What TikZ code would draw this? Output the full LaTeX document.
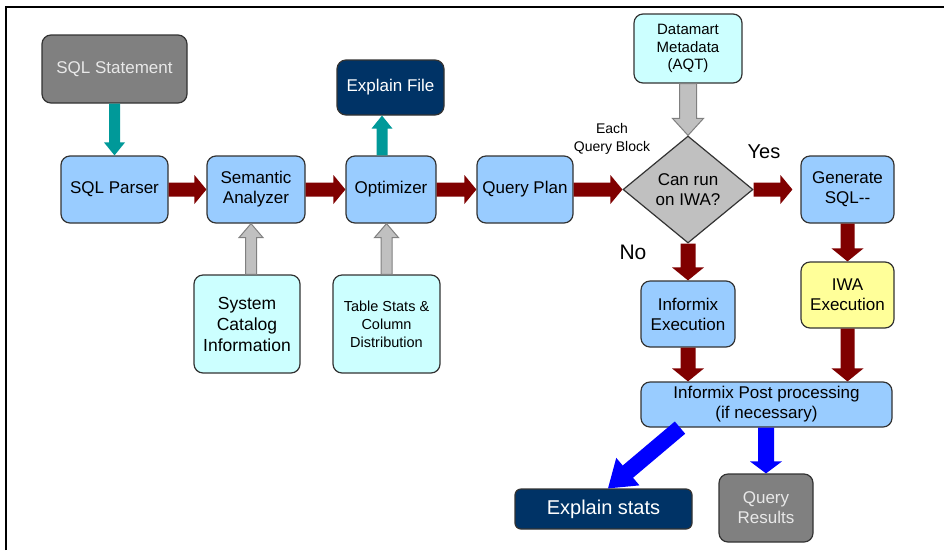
\documentclass[tikz,border=0pt]{standalone}
\usepackage{fontspec}
\setmainfont{Liberation Sans}
\usetikzlibrary{calc,shapes.geometric}

\definecolor{boxblue}{HTML}{99CCFF}
\definecolor{boxcyan}{HTML}{CCFFFF}
\definecolor{boxyellow}{HTML}{FFFF99}
\definecolor{boxgray}{HTML}{808080}
\definecolor{boxnavy}{HTML}{003366}
\definecolor{diagray}{HTML}{C0C0C0}
\definecolor{edge}{HTML}{333333}
\definecolor{flowred}{HTML}{800000}
\definecolor{flowteal}{HTML}{009999}
\definecolor{flowblue}{HTML}{0000FF}
\definecolor{lighttext}{HTML}{E8E8E8}

% Block arrow: style, start, end, half shaft width, half head width, head length
\newcommand{\blockarrow}[6]{%
  \coordinate (bhead) at ($#3!#6!#2$);
  \filldraw[#1] ($#2!#4!90:#3$) -- ($(bhead)!#4!90:#3$) -- ($(bhead)!#5!90:#3$)
    -- #3 -- ($(bhead)!#5!-90:#3$) -- ($(bhead)!#4!-90:#3$) -- ($#2!#4!-90:#3$) -- cycle;
}

\tikzset{
  box/.style={rectangle, rounded corners=9pt, draw=edge, line width=1.2pt,
    align=center, inner sep=0pt, font=\fontsize{17}{20}\selectfont},
  procbox/.style={box, fill=boxblue},
  inputbox/.style={box, fill=boxcyan},
  darkbox/.style={box, fill=boxnavy, text=white},
  greybox/.style={box, fill=boxgray, text=lighttext},
  redarrow/.style={fill=flowred, draw=none},
  tealarrow/.style={fill=flowteal, draw=none},
  bluearrow/.style={fill=flowblue, draw=none},
  greyarrow/.style={fill=diagray, draw=boxgray, line width=1pt, line join=miter},
  tag/.style={inner sep=0pt, align=center}
}

\begin{document}
\begin{tikzpicture}[x=1pt, y=-1pt]
\useasboundingbox (0,0) rectangle (944,550);
\fill[white] (0,0) rectangle (944,550);
% frame lines
\draw[line width=1.8pt] (6,550) -- (6,7) -- (944,7);

% main pipeline
\node[greybox, minimum width=145pt, minimum height=68pt] (sqlst) at (114.5,69) {SQL Statement};
\node[procbox, minimum width=107pt, minimum height=67pt] (parser) at (114.5,189.5) {SQL Parser};
\node[procbox, minimum width=98pt, minimum height=67pt] (sem) at (256,189.5) {Semantic\\Analyzer};
\node[procbox, minimum width=90pt, minimum height=67pt] (opt) at (391,189.5) {Optimizer};
\node[darkbox, minimum width=107pt, minimum height=55pt] (xfile) at (390.5,87.5) {Explain File};
\node[procbox, minimum width=96pt, minimum height=67pt] (qplan) at (525,189.5) {Query Plan};
\node[diamond, draw=edge, line width=1.2pt, fill=diagray, minimum width=130pt, minimum height=107pt,
  inner sep=0pt, align=center, font=\fontsize{17}{20}\selectfont] (dia) at (688,189.5) {Can run\\on IWA?};
\node[procbox, minimum width=93pt, minimum height=67pt] (gen) at (847.5,189.5) {Generate\\SQL-{}-};

% inputs
\node[inputbox, minimum width=108pt, minimum height=69pt, font=\fontsize{15}{17.5}\selectfont] (dm) at (688,48.5) {Datamart\\Metadata\\(AQT)};
\node[inputbox, minimum width=106pt, minimum height=98pt, font=\fontsize{17.5}{21}\selectfont] (syscat) at (247,324) {System\\Catalog\\Information};
\node[inputbox, minimum width=107pt, minimum height=98pt, font=\fontsize{14.5}{18}\selectfont] (tstats) at (386.5,324) {Table Stats \&\\Column\\Distribution};

% execution
\node[procbox, minimum width=94pt, minimum height=66pt] (infx) at (688,314) {Informix\\Execution};
\node[box, fill=boxyellow, minimum width=93pt, minimum height=66pt] (iwa) at (847.5,295) {IWA\\Execution};
\node[procbox, minimum width=251pt, minimum height=45pt] (post) at (766.5,404.5) {Informix Post processing\\(if necessary)};
\node[darkbox, rounded corners=6pt, minimum width=177pt, minimum height=40pt, font=\fontsize{20}{24}\selectfont] (xstats) at (603.5,509) {Explain stats};
\node[greybox, minimum width=94pt, minimum height=68pt] (qres) at (766,508) {Query\\Results};

% labels
\node[tag, font=\fontsize{14}{18}\selectfont] (each) at (612,139) {Each\\Query Block};
\node[tag, font=\fontsize{20}{24}\selectfont] (yes) at (764,152) {Yes};
\node[tag, font=\fontsize{21}{24}\selectfont] (no) at (633,252) {No};

% connector end points
\coordinate (optup) at ([xshift=-9pt]opt.north);
\coordinate (xfdown) at (optup |- xfile.south);
\coordinate (syscatup) at ([xshift=4pt]syscat.north);
\coordinate (semdown) at (syscatup |- sem.south);
\coordinate (optdown) at (tstats.north |- opt.south);
\coordinate (genin) at ([xshift=-8pt]gen.west);
\coordinate (postinfx) at (infx.south |- post.north);
\coordinate (postiwa) at (iwa.south |- post.north);
\coordinate (postleft) at ([xshift=-86.5pt]post.south);
\coordinate (statsin) at ([xshift=4.5pt]xstats.north);
\coordinate (postmid) at (qres.north |- post.south);

% flow arrows
\blockarrow{tealarrow}{(sqlst.south)}{(parser.north)}{5.5pt}{10.5pt}{13pt}
\blockarrow{tealarrow}{(optup)}{(xfdown)}{5.5pt}{10.5pt}{13pt}
\blockarrow{redarrow}{(parser.east)}{(sem.west)}{7pt}{14.5pt}{12pt}
\blockarrow{redarrow}{(sem.east)}{(opt.west)}{7pt}{14.5pt}{12pt}
\blockarrow{redarrow}{(opt.east)}{(qplan.west)}{7pt}{14.5pt}{12pt}
\blockarrow{redarrow}{(qplan.east)}{(dia.west)}{7pt}{14.5pt}{12pt}
\blockarrow{redarrow}{(dia.east)}{(genin)}{7pt}{14.5pt}{12pt}
\blockarrow{greyarrow}{(syscatup)}{(semdown)}{5.5pt}{12pt}{14pt}
\blockarrow{greyarrow}{(tstats.north)}{(optdown)}{5.5pt}{12pt}{14pt}
\blockarrow{greyarrow}{(dm.south)}{(dia.north)}{8.5pt}{15.5pt}{17pt}
\blockarrow{redarrow}{(dia.south)}{(infx.north)}{7.5pt}{16pt}{13pt}
\blockarrow{redarrow}{(gen.south)}{(iwa.north)}{7pt}{16pt}{13pt}
\blockarrow{redarrow}{(infx.south)}{(postinfx)}{7.5pt}{16pt}{13pt}
\blockarrow{redarrow}{(iwa.south)}{(postiwa)}{7pt}{16pt}{13pt}
\blockarrow{bluearrow}{(postleft)}{(statsin)}{8pt}{18pt}{26pt}
\blockarrow{bluearrow}{(postmid)}{(qres.north)}{8pt}{16pt}{12pt}
\end{tikzpicture}
\end{document}
